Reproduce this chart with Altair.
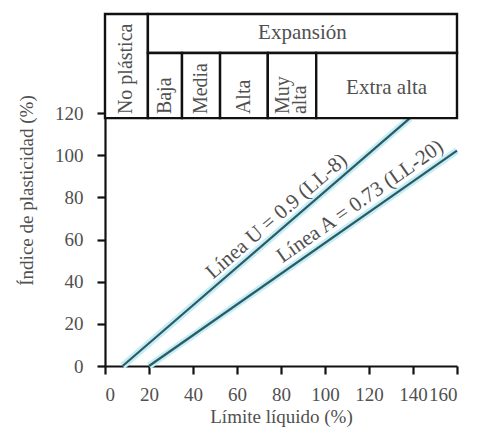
import altair as alt
import pandas as pd

# Lines (LL, PI endpoints)
u_ll = [8, 138.6]
u_pi = [0, 117.6]
a_ll = [20, 160]
a_pi = [0, 102.2]

# table cells (x0, x1, y0, y1) in data units
cell_names = ["No plástica", "Expansión", "Baja", "Media", "Alta", "Muy alta", "Extra alta"]
cell_x0 = [0, 19.5, 19.5, 35, 52.3, 74, 96]
cell_x1 = [19.5, 160, 35, 52.3, 74, 96, 160]
cell_y0 = [117.6, 148.5, 117.6, 117.6, 117.6, 117.6, 117.6]
cell_y1 = [167, 167, 148.5, 148.5, 148.5, 148.5, 148.5]

x_ticks = [0, 20, 40, 60, 80, 100, 120, 140, 160]
y_ticks = [0, 20, 40, 60, 80, 100, 120]

FONT = "Liberation Serif"
TXT = "#505050"

cells = pd.DataFrame({"name": cell_names, "x0": cell_x0, "x1": cell_x1, "y0": cell_y0, "y1": cell_y1})
lines = pd.DataFrame({
    "ll": u_ll + a_ll,
    "pi": u_pi + a_pi,
    "line": ["U", "U", "A", "A"],
})

xs = alt.Scale(domain=[0, 160], nice=False, zero=False)
ys = alt.Scale(domain=[0, 167], nice=False, zero=False)

base = alt.Chart(lines)

glow = base.mark_line(color="#c4edf6", strokeWidth=7).encode(
    x=alt.X("ll:Q", scale=xs, axis=alt.Axis(values=x_ticks, title="Límite líquido (%)", grid=False,
                                              labelPadding=11, titlePadding=3)),
    y=alt.Y("pi:Q", scale=ys, axis=alt.Axis(values=y_ticks, title="Índice de plasticidad (%)", grid=False,
                                              labelPadding=14, titlePadding=18)),
    detail="line:N",
)
core = base.mark_line(color="#2c5a63", strokeWidth=2.2).encode(
    x=alt.X("ll:Q", scale=xs), y=alt.Y("pi:Q", scale=ys), detail="line:N"
)

rects = alt.Chart(cells).mark_rect(fill="white", stroke="#111111", strokeWidth=2.4).encode(
    x=alt.X("x0:Q", scale=xs), x2="x1:Q", y=alt.Y("y0:Q", scale=ys), y2="y1:Q"
)

# horizontal labels in table
h_names = ["Expansión", "Extra alta"]
h_x = [89.75, 128]
h_y = [157.8, 132]
hlab = alt.Chart(pd.DataFrame({"t": h_names, "x": h_x, "y": h_y})).mark_text(
    font=FONT, fontSize=21, color=TXT, baseline="middle", align="center"
).encode(x=alt.X("x:Q", scale=xs), y=alt.Y("y:Q", scale=ys), text="t:N")

# vertical labels in table
v_names = ["No plástica", "Baja", "Media", "Alta", "Muy", "alta"]
v_x = [9.75, 27.25, 43.6, 63.1, 81, 88.6]
v_y = [119.5, 119.5, 119.5, 119.5, 119.5, 119.5]
vlab = alt.Chart(pd.DataFrame({"t": v_names, "x": v_x, "y": v_y})).mark_text(
    font=FONT, fontSize=20, color=TXT, baseline="middle", align="left", angle=270
).encode(x=alt.X("x:Q", scale=xs), y=alt.Y("y:Q", scale=ys), text="t:N")

# line labels
lu = alt.Chart(pd.DataFrame({"t": ["Línea U = 0.9 (LL-8)"], "x": [78], "y": [71]})).mark_text(
    font=FONT, fontSize=21, color=TXT, baseline="middle", align="center", angle=319
).encode(x=alt.X("x:Q", scale=xs), y=alt.Y("y:Q", scale=ys), text="t:N")
la = alt.Chart(pd.DataFrame({"t": ["Línea A = 0.73 (LL-20)"], "x": [116], "y": [78]})).mark_text(
    font=FONT, fontSize=21, color=TXT, baseline="middle", align="center", angle=325
).encode(x=alt.X("x:Q", scale=xs), y=alt.Y("y:Q", scale=ys), text="t:N")

chart = alt.layer(glow, core, rects, hlab, vlab, lu, la).properties(
    width=352, height=352,
    autosize=alt.AutoSizeParams(type="none"),
    padding={"left": 97, "top": 6, "right": 15, "bottom": 68},
).configure_view(stroke=None).configure_axis(
    labelFont=FONT, titleFont=FONT, labelFontSize=19, titleFontSize=19,
    labelColor=TXT, titleColor=TXT, titleFontWeight="normal",
    domainColor="#111111", domainWidth=2.2, tickColor="#111111", tickWidth=2.2, tickSize=8,
)

chart.save("out.html", embed_options={"renderer": "svg", "actions": False})
